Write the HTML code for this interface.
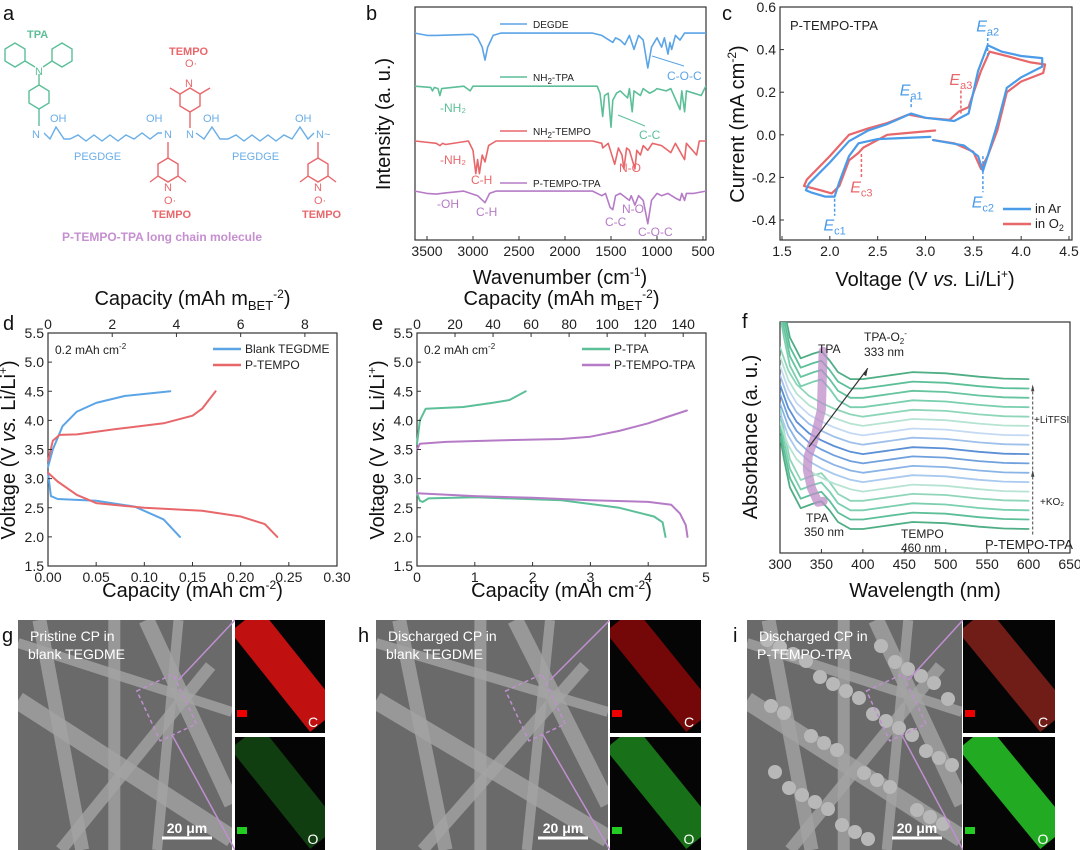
<!DOCTYPE html>
<html><head><meta charset="utf-8"><style>
html,body{margin:0;padding:0;background:#fff;}
svg{display:block;font-family:"Liberation Sans",sans-serif;}
</style></head><body>
<svg id="fig" width="1080" height="850" viewBox="0 0 1080 850" xmlns="http://www.w3.org/2000/svg">
<defs id="defs">
<clipPath id="clipB"><rect x="415" y="7" width="291" height="233"/></clipPath>
<clipPath id="clipF"><rect x="780" y="322" width="290" height="231"/></clipPath>
</defs>
<g font-size="20" fill="#111">
<text x="3" y="20">a</text><text x="366" y="20">b</text><text x="722" y="20">c</text>
<text x="3" y="330">d</text><text x="372" y="330">e</text><text x="742" y="328">f</text>
<text x="2" y="642">g</text><text x="358" y="642">h</text><text x="733" y="642">i</text>
</g>
<g id="panelA" fill="none" stroke-width="1.4">
<g stroke="#5cbf98">
<polygon points="15,43 25,49 25,61 15,67 5,61 5,49"/>
<polygon points="62,43 72,49 72,61 62,67 52,61 52,49"/>
<polygon points="39,85 49,91 49,103 39,109 29,103 29,91"/>
<line x1="25" y1="61" x2="35" y2="67"/><line x1="52" y1="61" x2="43" y2="67"/>
<line x1="39" y1="74" x2="39" y2="85"/><line x1="39" y1="109" x2="39" y2="126"/>
</g>
<text x="27" y="38" fill="#5cbf98" font-size="11" font-weight="bold" stroke="none">TPA</text>
<text x="35" y="75" fill="#5cbf98" font-size="11" stroke="none">N</text>
<polyline stroke="#6aaee8" points="44,133 50,139 56,127 64,139 70,139 78,135 86,141 94,135 102,141 110,135 118,141 126,135 134,139 142,133 150,139 158,133 162,133"/>
<polyline stroke="#6aaee8" points="196,133 204,139 212,127 220,139 228,139 236,135 244,141 252,135 260,141 268,135 276,141 284,135 292,139 300,127 308,139 314,133"/>
<g fill="#6aaee8" stroke="none" font-size="11">
<text x="32" y="138">N</text><text x="50" y="122">OH</text><text x="146" y="122">OH</text><text x="203" y="122">OH</text><text x="295" y="122">OH</text>
<text x="164" y="138">N</text><text x="186" y="138">N</text><text x="316" y="138">N~</text>
<text x="74" y="160" font-size="11">PEGDGE</text><text x="232" y="160" font-size="11">PEGDGE</text>
</g>
<g stroke="#e8676b">
<polygon points="190,88 200,94 200,106 190,112 180,106 180,94"/><line x1="190" y1="112" x2="190" y2="128"/>
<polygon points="168,158 178,164 178,176 168,182 158,176 158,164"/><line x1="168" y1="158" x2="168" y2="142"/>
<polygon points="318,158 328,164 328,176 318,182 308,176 308,164"/><line x1="318" y1="158" x2="318" y2="142"/>
<line x1="200" y1="94" x2="210" y2="88"/><line x1="180" y1="94" x2="170" y2="88"/>
<line x1="158" y1="176" x2="150" y2="182"/><line x1="178" y1="176" x2="186" y2="182"/>
<line x1="308" y1="176" x2="300" y2="182"/><line x1="328" y1="176" x2="336" y2="182"/>
</g>
<g fill="#e8676b" stroke="none" font-size="11" font-weight="bold">
<text x="169" y="55">TEMPO</text><text x="152" y="218">TEMPO</text><text x="302" y="218">TEMPO</text>
</g>
<g fill="#e8676b" stroke="none" font-size="11">
<text x="185" y="67">O·</text><text x="185" y="87">N</text><text x="164" y="191">N</text><text x="164" y="204">O·</text>
<text x="314" y="191">N</text><text x="314" y="204">O·</text>
</g>
<text x="62" y="241" fill="#c58fd0" stroke="none" font-size="12" font-weight="bold">P-TEMPO-TPA long chain molecule</text>
</g>
<g id="plots"></g>
<g id="sem"></g>
</svg>
<script>
const NS="http://www.w3.org/2000/svg";
const root=document.getElementById('plots');
const defs=document.getElementById('defs');
function mk(tag,attrs,parent,name,text){
  const el=document.createElementNS(NS,tag);
  for(const k in attrs) el.setAttribute(k,attrs[k]);
  
  
  if(text!==undefined) el.textContent=text;
  (parent||root).appendChild(el);
  return el;
}
function scale(d0,d1,r0,r1){return v=>r0+(v-d0)*(r1-r0)/(d1-d0);}

// ---------- data: panel b (FTIR) ----------
const ftirNames=["DEGDE","NH2-TPA","NH2-TEMPO","P-TEMPO-TPA"];
const ftirOffsets=[88.8,66,42.5,21];
const ftirDEGDE=[[3630,0],[3500,1],[3400,1],[3000,0.5],[2950,2],[2900,6],[2870,11.6],[2840,6],[2780,1],[2700,0],[1700,0],[1600,1],[1480,4],[1450,2],[1400,3],[1350,5],[1300,1],[1250,7],[1200,1],[1150,3],[1100,15],[1060,6],[1000,2],[950,6],[920,2],[880,9],[860,4],[840,7],[800,1],[750,3],[700,0],[470,0]];
const ftirTPA=[[3630,0],[3460,0.5],[3440,2],[3420,0.5],[3380,1],[3360,4],[3340,1],[3100,0],[3030,2],[3000,0],[1650,0],[1620,3],[1590,13],[1570,4],[1530,3],[1500,17.6],[1480,6],[1440,3],[1400,2],[1320,5],[1300,1],[1270,11],[1250,2],[1180,4],[1150,1],[1080,3],[1030,2],[1000,1],[900,2],[850,1],[750,10],[730,2],[700,11],[680,2],[600,3],[520,4],[470,0]];
const ftirTEMPO=[[3630,0],[3400,1],[3360,2],[3330,1],[3300,1.5],[3050,0],[3000,4],[2970,14],[2950,8],[2930,14],[2900,6],[2870,9],[2830,2],[2750,0],[1700,0],[1600,1],[1590,3],[1530,1],[1460,10],[1420,3],[1380,6],[1360,12],[1330,3],[1300,4],[1240,12],[1220,4],[1180,6],[1150,2],[1100,4],[1050,1],[950,2],[850,5],[800,1],[700,8],[680,1],[570,6],[540,0],[470,0]];
const ftirPTT=[[3630,0],[3500,1],[3400,1.3],[3300,0.8],[3100,0],[2950,2],[2870,5],[2820,1],[2750,0],[1700,0],[1600,2],[1560,1],[1510,7],[1480,8],[1450,2],[1400,1],[1300,4],[1280,2],[1240,6],[1200,2],[1150,4],[1100,14],[1060,4],[1000,1],[950,2],[880,1],[800,3],[750,4],[730,1],[700,4],[680,1],[600,1],[470,0]];
const ftirTicks=[3500,3000,2500,2000,1500,1000,500];

// ---------- data: panel c (CV) ----------
const cvAr=[[3.05,-0.01],[2.5,-0.02],[2.3,-0.04],[2.2,-0.1],[2.1,-0.22],[2.05,-0.29],[1.95,-0.29],[1.8,-0.27],[1.75,-0.26],[1.78,-0.23],[2.0,-0.13],[2.2,-0.03],[2.4,0.02],[2.6,0.05],[2.85,0.1],[3.0,0.08],[3.3,0.065],[3.45,0.1],[3.55,0.3],[3.65,0.42],[3.8,0.39],[4.0,0.37],[4.22,0.36],[4.22,0.32],[4.0,0.27],[3.85,0.22],[3.75,0.05],[3.65,-0.1],[3.6,-0.17],[3.55,-0.1],[3.4,-0.05],[3.08,-0.025]];
const cvO2=[[3.1,0.02],[2.6,0.0],[2.35,-0.06],[2.3,-0.085],[2.2,-0.12],[2.1,-0.24],[2.02,-0.275],[1.9,-0.26],[1.73,-0.24],[1.76,-0.21],[2.0,-0.1],[2.2,0.0],[2.4,0.03],[2.6,0.055],[2.82,0.095],[3.0,0.08],[3.25,0.07],[3.35,0.11],[3.45,0.13],[3.58,0.3],[3.67,0.39],[3.85,0.37],[4.1,0.34],[4.25,0.33],[4.23,0.29],[4.0,0.25],[3.85,0.2],[3.75,0.02],[3.65,-0.1],[3.58,-0.16],[3.5,-0.08],[3.3,-0.04],[3.08,-0.025]];
const cvXTicks=[1.5,2.0,2.5,3.0,3.5,4.0,4.5];
const cvYTicks=[-0.4,-0.2,0.0,0.2,0.4,0.6];

// ---------- data: panel d ----------
const dBlankCh=[[0,3.2],[0.005,3.5],[0.015,3.9],[0.03,4.15],[0.05,4.3],[0.08,4.42],[0.127,4.5]];
const dBlankDis=[[0,3.1],[0.003,2.7],[0.01,2.65],[0.05,2.62],[0.09,2.52],[0.12,2.3],[0.137,2.0]];
const dTempoCh=[[0,3.3],[0.005,3.65],[0.012,3.75],[0.03,3.76],[0.07,3.85],[0.12,3.95],[0.15,4.08],[0.16,4.2],[0.174,4.5]];
const dTempoDis=[[0,3.1],[0.01,2.95],[0.03,2.72],[0.05,2.58],[0.1,2.5],[0.16,2.45],[0.2,2.35],[0.225,2.22],[0.238,2.0]];
const dXTicks=[0,0.05,0.10,0.15,0.20,0.25,0.30];
const dTopTicks=[0,2,4,6,8];
const vTicks=[1.5,2.0,2.5,3.0,3.5,4.0,4.5,5.0,5.5];
// ---------- data: panel e ----------
const eTpaCh=[[0,3.6],[0.05,4.0],[0.15,4.2],[0.8,4.23],[1.3,4.3],[1.6,4.35],[1.88,4.5]];
const eTpaDis=[[0,2.75],[0.05,2.62],[0.1,2.6],[0.2,2.66],[1,2.68],[2.5,2.63],[3.5,2.5],[4.1,2.35],[4.25,2.25],[4.3,2.0]];
const ePttCh=[[0,3.5],[0.05,3.6],[0.5,3.63],[1.5,3.66],[2.5,3.68],[3,3.72],[3.5,3.82],[4,3.95],[4.3,4.05],[4.67,4.17]];
const ePttDis=[[0,2.75],[1,2.7],[2,2.67],[3,2.63],[4,2.6],[4.4,2.55],[4.55,2.4],[4.65,2.2],[4.68,2.0]];
const eXTicks=[0,1,2,3,4,5];
const eTopTicks=[0,20,40,60,80,100,120,140];
// ---------- data: panel f ----------
const uvShapePeak=[[300,0.4],[305,0.3],[312,0.18],[325,0.09],[340,0.11],[350,0.12],[360,0.08],[370,0.03],[385,0.0],[400,0.0],[430,0.015],[460,0.03],[500,0.025],[540,0.01],[570,0.002],[600,0]];
const uvShapeFlat=[[300,0.3],[310,0.2],[320,0.14],[335,0.09],[350,0.06],[365,0.035],[385,0.01],[400,0],[430,0.015],[460,0.03],[500,0.025],[540,0.01],[570,0.002],[600,0]];
const uvOffsets=[0.104,0.145,0.185,0.226,0.266,0.307,0.347,0.388,0.428,0.469,0.509,0.550,0.590,0.631,0.672,0.712,0.753];
const uvShapeIdx=[0,0,0,0,1,1,1,1,1,1,1,1,1,0,0,0,0];
const uvColors=["#4fae85","#5cbf98","#7acfae","#8fd6b9","#b7e3d2","#a9c9ef","#8ab4e6","#6fa0dd","#5b8fd6","#9fc0ea","#c4d9f3","#b7e3d2","#8fd6b9","#7acfae","#66c49f","#5cbf98","#4fae85"];
const fXTicks=[300,350,400,450,500,550,600,650];

function frame(x0,y0,x1,y1,name){mk('rect',{x:x0,y:y0,width:x1-x0,height:y1-y0,fill:'none',stroke:'#333','stroke-width':1.2},root,name);}
function line(pts,sx,sy,color,name,w,clip){
  const d=pts.map((p,i)=>(i?'L':'M')+sx(p[0]).toFixed(1)+','+sy(p[1]).toFixed(1)).join('');
  const a={d:d,fill:'none',stroke:color,'stroke-width':w||2,'stroke-linejoin':'round','stroke-linecap':'round'};
  if(clip)a['clip-path']=clip;
  return mk('path',a,root,name);
}
function xticks(ticks,sx,yb,fmt,name,fs){
  ticks.forEach(t=>{
    mk('line',{x1:sx(t),x2:sx(t),y1:yb,y2:yb-4,stroke:'#333'},root,name+'-tick');
    mk('text',{x:sx(t),y:yb+16,'font-size':fs||14,'text-anchor':'middle',fill:'#222'},root,name+'-label',fmt(t));
  });
}
function yticks(ticks,sy,xl,fmt,name){
  ticks.forEach(t=>{
    mk('line',{x1:xl,x2:xl+4,y1:sy(t),y2:sy(t),stroke:'#333'},root,name+'-tick');
    mk('text',{x:xl-4,y:sy(t)+5,'font-size':14,'text-anchor':'end',fill:'#222'},root,name+'-label',fmt(t));
  });
}
function ytitle(x,y,txt,name,html){
  const t=mk('text',{x:x,y:y,'font-size':20,'text-anchor':'middle',fill:'#111',transform:`rotate(-90 ${x} ${y})`},root,name);
  if(html)t.innerHTML=html;else t.textContent=txt;
}
function xtitle(x,y,html,name){const t=mk('text',{x:x,y:y,'font-size':20,'text-anchor':'middle',fill:'#111'},root,name);t.innerHTML=html;}
function legend(x,y,color,label,name,fs){
  mk('line',{x1:x,x2:x+28,y1:y,y2:y,stroke:color,'stroke-width':2.5},root,name+'-swatch');
  const t=mk('text',{x:x+32,y:y+4,'font-size':fs||13,fill:'#222'},root,name+'-label');t.innerHTML=label;
}

// ===== panel b =====
(function(){
  const sx=scale(3500,500,427,703), sy=scale(0,100,240,7);
  frame(415,7,706,240,'ftir-frame');
  const cols=["#5ba4e6","#5cbf98","#e8676b","#b57bc6"];
  [ftirDEGDE,ftirTPA,ftirTEMPO,ftirPTT].forEach((s,i)=>{
    line(s.map(p=>[p[0],ftirOffsets[i]-p[1]]),sx,sy,cols[i],'ftir-'+ftirNames[i].toLowerCase(),1.6,'url(#clipB)');
  });
  xticks(ftirTicks,sx,240,t=>t,'ftir-x',14);
  xtitle(560,284,'Wavenumber (cm<tspan font-size="12" dy="-8">-1</tspan><tspan dy="8">)</tspan>','ftir-x-title');
  ytitle(390,124,'Intensity (a. u.)','ftir-y-title');
  const ly=[24,77,131,183], lt=['DEGDE','NH<tspan font-size="8" dy="3">2</tspan><tspan dy="-3">-TPA</tspan>','NH<tspan font-size="8" dy="3">2</tspan><tspan dy="-3">-TEMPO</tspan>','P-TEMPO-TPA'];
  ly.forEach((y,i)=>{mk('line',{x1:500,x2:527,y1:y,y2:y,stroke:cols[i],'stroke-width':1.6},root,'ftir-legend-swatch');
    const t=mk('text',{x:533,y:y+4,'font-size':10,fill:'#222'},root,'ftir-legend-label');t.innerHTML=lt[i];});
  const ann=[[440,112,'-NH₂',cols[1]],[440,164,'-NH₂',cols[2]],[471,184,'C-H',cols[2]],[437,208,'-OH',cols[3]],[476,216,'C-H',cols[3]],[667,80,'C-O-C',cols[0]],[639,139,'C-C',cols[1]],[619,172,'N-O',cols[2]],[622,213,'N-O',cols[3]],[605,226,'C-C',cols[3]],[638,236,'C-O-C',cols[3]]];
  ann.forEach(a=>mk('text',{x:a[0],y:a[1],'font-size':12,fill:a[3]},root,'ftir-annotation',a[2]));
  mk('line',{x1:652,y1:56,x2:684,y2:66,stroke:cols[0]},root,'ftir-arrow');
  mk('line',{x1:618,y1:115,x2:645,y2:126,stroke:cols[1]},root,'ftir-arrow');
})();

// ===== panel c =====
(function(){
  const sx=scale(1.5,4.5,782,1069), sy=scale(-0.4,0.6,220,7);
  frame(780,7,1072,240,'cv-frame');
  line(cvO2,sx,sy,'#e8676b','cv-o2-curve',2.2);
  line(cvAr,sx,sy,'#4a9be8','cv-ar-curve',2.2);
  xticks(cvXTicks,sx,240,t=>t.toFixed(1),'cv-x');
  yticks(cvYTicks,sy,780,t=>t.toFixed(1),'cv-y');
  xtitle(925,286,'Voltage (V <tspan font-style="italic">vs.</tspan> Li/Li<tspan font-size="12" dy="-8">+</tspan><tspan dy="8">)</tspan>','cv-x-title');
  ytitle(744,124,'','cv-y-title','Current (mA cm<tspan font-size="12" dy="-8">-2</tspan><tspan dy="8">)</tspan>');
  mk('text',{x:790,y:30,'font-size':13,fill:'#222'},root,'cv-sample-label','P-TEMPO-TPA');
  legend(1003,209,'#4a9be8','in Ar','cv-legend-ar');
  legend(1003,224,'#e8676b','in O<tspan font-size="9" dy="3">2</tspan>','cv-legend-o2');
  const labs=[[2.85,0.13,0.17,'a1','#4a9be8',1],[3.65,0.37,0.47,'a2','#4a9be8',1],[3.37,0.1,0.22,'a3','#e8676b',1],[2.05,-0.3,-0.38,'c1','#4a9be8',0],[3.6,-0.1,-0.27,'c2','#4a9be8',0],[2.33,-0.09,-0.2,'c3','#e8676b',0]];
  labs.forEach(l=>{
    mk('line',{x1:sx(l[0]),x2:sx(l[0]),y1:sy(l[1]),y2:sy(l[2]),stroke:l[4],'stroke-width':1.5,'stroke-dasharray':'3,2'},root,'cv-peak-marker');
    const t=mk('text',{x:sx(l[0]),y:sy(l[2])+(l[5]?-3:15),'font-size':16,'text-anchor':'middle',fill:l[4]},root,'cv-peak-label');
    t.innerHTML='<tspan font-style="italic">E</tspan><tspan font-size="11" dy="4">'+l[3]+'</tspan>';
  });
})();

// ===== panel d & e =====
function voltPanel(x0,x1,xmax,xt,topMax,topT,series,cols,names,labels,prefix,fmtx){
  const sx=scale(0,xmax,x0,x1), sy=scale(1.5,5.5,566,333), st=scale(0,topMax,x0,x1);
  frame(x0,333,x1,566,prefix+'-frame');
  series.forEach((s,i)=>line(s,sx,sy,cols[Math.floor(i/2)],prefix+'-'+names[i],2));
  xticks(xt,sx,566,fmtx,prefix+'-x');
  yticks(vTicks,sy,x0,t=>t.toFixed(1),prefix+'-y');
  topT.forEach(t=>{mk('line',{x1:st(t),x2:st(t),y1:333,y2:337,stroke:'#333'},root,prefix+'-top-tick');
    mk('text',{x:st(t),y:329,'font-size':14,'text-anchor':'middle',fill:'#222'},root,prefix+'-top-label',t);});
  const cx=(x0+x1)/2;
  xtitle(cx,597,'Capacity (mAh cm<tspan font-size="12" dy="-8">-2</tspan><tspan dy="8">)</tspan>',prefix+'-x-title');
  xtitle(cx,305,'Capacity (mAh m<tspan font-size="13" dy="5">BET</tspan><tspan font-size="12" dy="-12">-2</tspan><tspan dy="7">)</tspan>',prefix+'-top-title');
  ytitle(x0-33,450,'',prefix+'-y-title','Voltage (V <tspan font-style="italic">vs.</tspan> Li/Li<tspan font-size="12" dy="-8">+</tspan><tspan dy="8">)</tspan>');
  const t=mk('text',{x:x0+7,y:354,'font-size':12,fill:'#222'},root,prefix+'-rate-label');t.innerHTML='0.2 mAh cm<tspan font-size="8" dy="-5">-2</tspan>';
  legend(x1-124,349,cols[0],labels[0],prefix+'-legend-1',12);
  legend(x1-124,365,cols[1],labels[1],prefix+'-legend-2',12);
}
voltPanel(48,337,0.30,dXTicks,9,dTopTicks,[dBlankCh,dBlankDis,dTempoCh,dTempoDis],['#5ba4e6','#e8676b'],['blank-charge','blank-discharge','ptempo-charge','ptempo-discharge'],['Blank TEGDME','P-TEMPO'],'gcd-d',t=>t.toFixed(2));
voltPanel(417,706,5,eXTicks,152,eTopTicks,[eTpaCh,eTpaDis,ePttCh,ePttDis],['#5cbf98','#b57bc6'],['ptpa-charge','ptpa-discharge','ptt-charge','ptt-discharge'],['P-TPA','P-TEMPO-TPA'],'gcd-e',t=>t);

// ===== panel f =====
(function(){
  const sx=scale(300,650,780,1070), sy=scale(0,1,553,322);
  frame(780,322,1070,553,'uv-frame');
  uvOffsets.forEach((o,i)=>{
    const sh=uvShapeIdx[i]?uvShapeFlat:uvShapePeak;
    line(sh.map(p=>[p[0],o+p[1]]),sx,sy,uvColors[i],'uv-spectrum',1.8,'url(#clipF)');
  });
  const bandPts=[[352,uvOffsets[16]+0.12],[350,0.62],[342,0.5],[334,0.42],[333,0.36],[338,0.28],[346,0.22],[352,uvOffsets[0]+0.12]];
  line(bandPts,sx,sy,'rgba(190,140,200,0.75)','uv-peak-band',9);
  mk('line',{x1:sx(335),y1:sy(0.46),x2:sx(406),y2:sy(0.8),stroke:'#333','stroke-width':1.2},root,'uv-arrow');
  mk('polygon',{points:`${sx(406)},${sy(0.8)} ${sx(400)},${sy(0.775)} ${sx(404)},${sy(0.765)}`,fill:'#333'},root,'uv-arrow-head');
  mk('line',{x1:sx(605),y1:sy(0.08),x2:sx(605),y2:sy(0.72),stroke:'#444','stroke-dasharray':'3,2'},root,'uv-dashed-arrow');
  mk('polygon',{points:`${sx(605)},${sy(0.73)} ${sx(603)},${sy(0.7)} ${sx(607)},${sy(0.7)}`,fill:'#444'},root,'uv-arrow-head');
  mk('polygon',{points:`${sx(605)},${sy(0.36)} ${sx(603)},${sy(0.33)} ${sx(607)},${sy(0.33)}`,fill:'#444'},root,'uv-arrow-head');
  const tx=[[818,353,'TPA',12],[806,522,'TPA',12],[804,536,'350 nm',12],[901,538,'TEMPO',12],[901,552,'460 nm',12],[985,549,'P-TEMPO-TPA',13],[1034,423,'+LiTFSI',10],[1040,505,'+KO₂',10]];
  tx.forEach(a=>mk('text',{x:a[0],y:a[1],'font-size':a[3],fill:'#222'},root,'uv-annotation',a[2]));
  const t=mk('text',{x:864,y:341,'font-size':12,fill:'#222'},root,'uv-annotation');t.innerHTML='TPA-O<tspan font-size="8" dy="3">2</tspan><tspan font-size="8" dy="-8">-</tspan>';
  mk('text',{x:864,y:356,'font-size':12,fill:'#222'},root,'uv-annotation','333 nm');
  xticks(fXTicks,sx,553,t=>t,'uv-x');
  xtitle(925,597,'Wavelength (nm)','uv-x-title');
  ytitle(757,437,'Absorbance (a. u.)','uv-y-title');
})();

// ===== SEM =====
const sem=document.getElementById('sem');
const semPanels=[
 {x:18,w:214,mx:235,mw:90,t1:'Pristine CP in',t2:'blank TEGDME',c:'rgba(255,20,20,0.75)',o:'rgba(40,170,40,0.35)'},
 {x:376,w:232,mx:610,mw:91,t1:'Discharged CP in',t2:'blank TEGDME',c:'rgba(190,10,10,0.6)',o:'rgba(40,200,40,0.55)'},
 {x:747,w:215,mx:963,mw:92,t1:'Discharged CP in',t2:'P-TEMPO-TPA',c:'rgba(200,50,40,0.55)',o:'rgba(40,200,40,0.85)'}];
semPanels.forEach((p,k)=>{
  const cid='semclip'+k;
  const cp=mk('clipPath',{id:cid},defs,'clip');
  mk('rect',{x:p.x,y:620,width:p.w,height:230},cp,'clip-rect');
  const g=mk('g',{'clip-path':'url(#'+cid+')'},sem,'sem-panel-'+'ghi'[k]);
  mk('rect',{x:p.x,y:620,width:p.w,height:230,fill:'#6a6a6a'},g,'sem-image');
  const fib=[[0.1,0,0.3,1,14],[0.6,0,1.0,0.8,16],[0,0.35,1,0.95,18],[0.45,0,0.45,1,12],[0,0.1,1,0.4,10],[0.2,1,0.9,0.2,12],[0.75,0,0.65,1,10]];
  fib.forEach(f=>mk('line',{x1:p.x+f[0]*p.w,y1:620+f[1]*230,x2:p.x+f[2]*p.w,y2:620+f[3]*230,stroke:'#a4a4a4','stroke-width':f[4],'stroke-opacity':0.8},g,'sem-fiber'));
  if(k==2){for(let i=0;i<40;i++){mk('circle',{cx:p.x+20+((i*53)%190),cy:640+((i*37)%200),r:7,fill:'#b8b8b8'},g,'sem-particle');}}
  mk('text',{x:p.x+12,y:641,'font-size':14,fill:'#fff'},g,'sem-caption',p.t1);
  mk('text',{x:p.x+10,y:659,'font-size':14,fill:'#fff'},g,'sem-caption',p.t2);
  mk('line',{x1:p.x+p.w-70,x2:p.x+p.w-20,y1:838,y2:838,stroke:'#fff','stroke-width':3},g,'scale-bar');
  mk('text',{x:p.x+p.w-45,y:833,'font-size':14,'font-weight':'bold','text-anchor':'middle',fill:'#fff'},g,'scale-bar-label','20 μm');
  mk('rect',{x:p.x+p.w*0.6,y:680,width:40,height:55,fill:'none',stroke:'#c08fd0','stroke-width':1.5,'stroke-dasharray':'4,3',transform:`rotate(-25 ${p.x+p.w*0.6+20} 707)`},g,'zoom-box');
  mk('line',{x1:p.x+p.w*0.75,y1:680,x2:p.mx,y2:620,stroke:'#c08fd0','stroke-width':1.5},sem,'zoom-line');
  mk('line',{x1:p.x+p.w*0.72,y1:735,x2:p.mx,y2:850,stroke:'#c08fd0','stroke-width':1.5},sem,'zoom-line');
  [[620,p.c,'C'],[737,p.o,'O']].forEach((m,j)=>{
    const mid='edsclip'+k+j;
    const mc=mk('clipPath',{id:mid},defs,'clip');
    mk('rect',{x:p.mx,y:m[0],width:p.mw,height:113},mc,'clip-rect');
    const mg=mk('g',{'clip-path':'url(#'+mid+')'},sem,'eds-map-'+m[2].toLowerCase());
    mk('rect',{x:p.mx,y:m[0],width:p.mw,height:113,fill:'#050505'},mg,'eds-background');
    mk('line',{x1:p.mx+10,y1:m[0],x2:p.mx+p.mw,y2:m[0]+100,stroke:m[1],'stroke-width':38},mg,'eds-signal');
    mk('rect',{x:p.mx+2,y:m[0]+90,width:10,height:7,fill:m[2]=='C'?'#e00':'#2c2'},mg,'eds-color-key');
    mk('text',{x:p.mx+p.mw-12,y:m[0]+107,'font-size':14,fill:'#fff','text-anchor':'middle'},mg,'eds-element-label',m[2]);
  });
});
</script>
</body></html>
